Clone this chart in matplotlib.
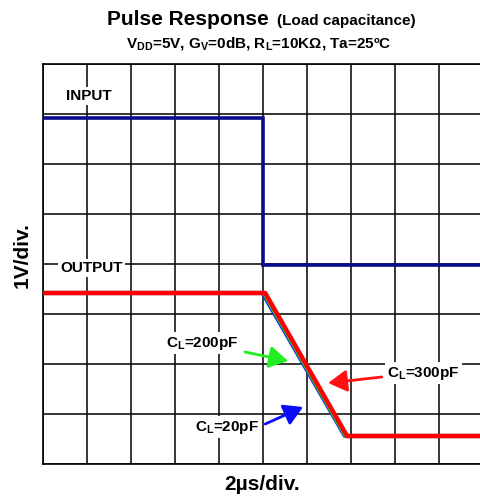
import matplotlib
matplotlib.use("Agg")
import matplotlib.pyplot as plt

plt.rcParams['font.family'] = ['Liberation Sans', 'DejaVu Sans']
plt.rcParams['font.weight'] = 'bold'
plt.rcParams['mathtext.fontset'] = 'custom'
plt.rcParams['mathtext.rm'] = 'Liberation Sans:bold'
plt.rcParams['mathtext.it'] = 'Liberation Sans:bold'
plt.rcParams['mathtext.bf'] = 'Liberation Sans:bold'

# ---- data (in divisions: x = 2us/div, y = 1V/div) ----
input_t = [0.0, 5.0, 5.0, 10.0]
input_v = [6.92, 6.92, 3.98, 3.98]

out_v = [3.42, 3.42, 0.56, 0.56]
out_t_20pF = [0.0, 4.99, 6.86, 10.0]
out_t_200pF = [0.0, 5.02, 6.88, 10.0]
out_t_300pF = [0.0, 5.05, 6.91, 10.0]

x_divs = list(range(0, 11))
y_divs = list(range(0, 9))

W, H = 481, 497
fig = plt.figure(figsize=(W / 100, H / 100), dpi=100)
ax = fig.add_axes([43 / W, (H - 464) / H, 440 / W, 400 / H])
ax.set_xlim(0, 10)
ax.set_ylim(0, 8)
ax.set_xticks(x_divs)
ax.set_yticks(y_divs)
ax.tick_params(length=0, labelbottom=False, labelleft=False)
ax.grid(True, color='black', lw=1.1, zorder=1)
for s in ax.spines.values():
    s.set_color('black')
    s.set_linewidth(1.2)

ax.plot(input_t, input_v, color='#0a0a8c', lw=2.6, zorder=5, solid_joinstyle='miter')
ax.plot(out_t_20pF, out_v, color='#1a1aff', lw=3.0, zorder=4)
ax.plot(out_t_200pF, out_v, color='#22cc22', lw=3.0, zorder=4.5)
ax.plot(out_t_300pF, out_v, color='#ff0000', lw=3.2, zorder=5)

box = dict(facecolor='white', edgecolor='none', pad=1.5)
ax.text(1.05, 7.36, 'INPUT', ha='center', va='center', fontsize=11, fontweight='bold', bbox=box, zorder=6)
ax.text(1.11, 3.92, 'OUTPUT', ha='center', va='center', fontsize=11, fontweight='bold', bbox=box, zorder=6)
ax.text(3.61, 2.42, 'C$_{L}$=200pF', ha='center', va='center', fontsize=11, fontweight='bold', bbox=box, zorder=6)
ax.text(4.18, 0.74, 'C$_{L}$=20pF', ha='center', va='center', fontsize=11, fontweight='bold', bbox=box, zorder=6)
ax.text(8.64, 1.82, 'C$_{L}$=300pF', ha='center', va='center', fontsize=11, fontweight='bold', bbox=box, zorder=6)

def arrow(tail, head, color):
    ax.annotate('', xy=head, xytext=tail,
                arrowprops=dict(arrowstyle='-|>,head_length=0.6,head_width=0.35',
                                color=color, lw=2.0,
                                mutation_scale=19, shrinkA=0, shrinkB=0),
                zorder=7)

arrow((4.59, 2.24), (5.57, 2.06), '#22ee22')
arrow((5.05, 0.80), (5.91, 1.14), '#0a0aff')
arrow((7.70, 1.74), (6.48, 1.62), '#ff1111')

fig.text(107 / W, 1 - 25 / H, 'Pulse Response', fontsize=15, fontweight='bold', ha='left', va='baseline')
fig.text(277 / W, 1 - 25 / H, '(Load capacitance)', fontsize=11, fontweight='bold', ha='left', va='baseline')
fig.text(259 / W, 1 - 48 / H,
         'V$_{DD}$=5V, G$_{V}$=0dB, R$_{L}$=10KΩ, Ta=25ºC',
         fontsize=11, fontweight='bold', ha='center', va='baseline')

fig.text(22 / W, 1 - 255 / H, '1V/div.', fontsize=15, fontweight='bold', rotation=90, ha='center', va='center')
fig.text(262 / W, 1 - 485 / H, '2µs/div.', fontsize=15, fontweight='bold', ha='center', va='center')

fig.savefig('out.png', dpi=100)
